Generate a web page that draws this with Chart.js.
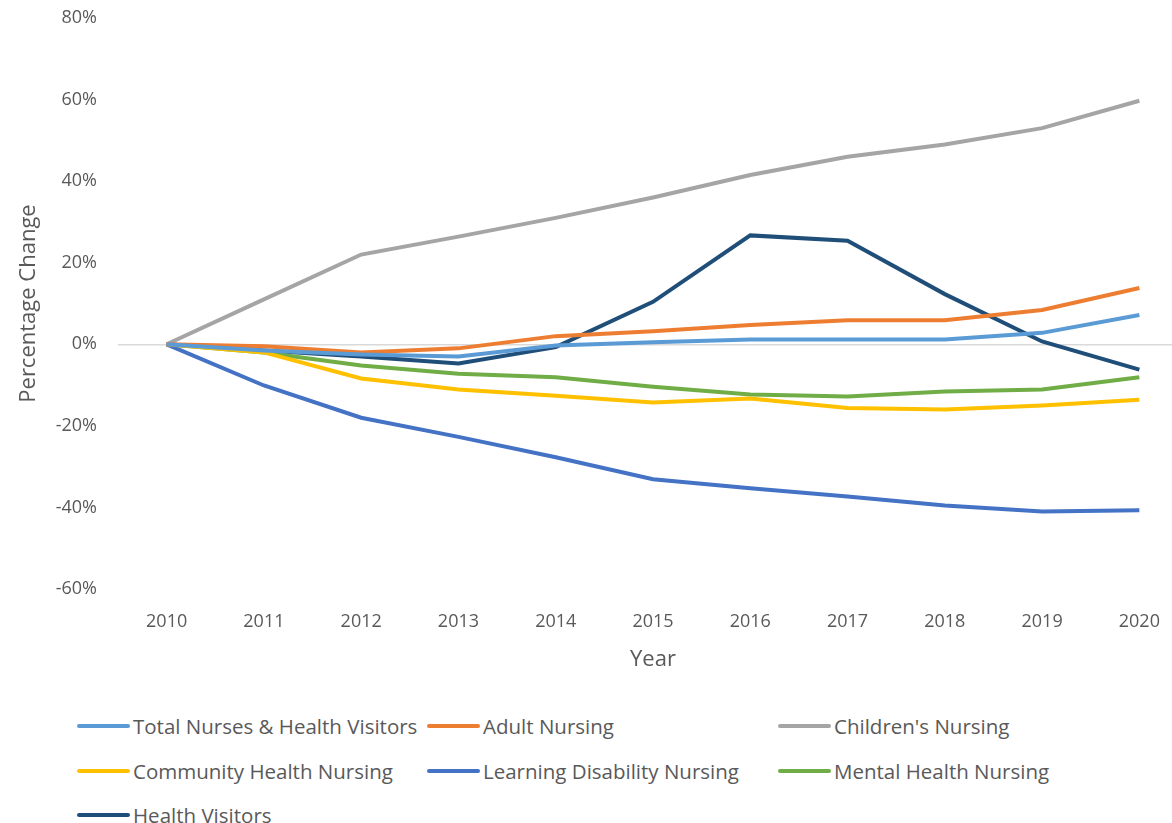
<!DOCTYPE html>
<html>
<head>
<meta charset="utf-8">
<script src="https://cdn.jsdelivr.net/npm/chart.js@4"></script>
<style>
  html, body { margin: 0; padding: 0; background: #fff; overflow: hidden; }
  #wrap { position: relative; width: 1192px; height: 690px; }
  #legend { position: absolute; left: 0; top: 705px; width: 1172px; height: 118px;
    font-family: "Open Sans", sans-serif; font-size: 20.5px; color: #595959; }
  .item { position: absolute; display: flex; align-items: center; white-space: nowrap; }
  .swatch { width: 53px; height: 4px; border-radius: 2px; margin-right: 3px; }
</style>
</head>
<body>
<div id="wrap"><canvas id="chart"></canvas></div>
<div id="legend"></div>
<script>
// years on the x axis
const years = ['2010','2011','2012','2013','2014','2015','2016','2017','2018','2019','2020'];

// percentage change since 2010
const totalNurses   = [0, -0.015, -0.025, -0.03, -0.003, 0.005, 0.012, 0.012, 0.012, 0.028, 0.072];
const adultNursing  = [0, -0.005, -0.02, -0.01, 0.02, 0.032, 0.047, 0.059, 0.059, 0.084, 0.138];
const childrensNursing = [0, 0.11, 0.22, 0.264, 0.31, 0.36, 0.415, 0.46, 0.49, 0.53, 0.597];
const communityNursing = [0, -0.02, -0.084, -0.111, -0.126, -0.143, -0.133, -0.156, -0.16, -0.15, -0.136];
const learningDisability = [0, -0.101, -0.18, -0.227, -0.277, -0.331, -0.353, -0.373, -0.395, -0.41, -0.407];
const mentalHealth  = [0, -0.02, -0.052, -0.072, -0.081, -0.104, -0.123, -0.128, -0.116, -0.111, -0.081];
const healthVisitors = [0, -0.015, -0.03, -0.047, -0.007, 0.104, 0.267, 0.254, 0.123, 0.007, -0.062];

const yTicks = [-0.6, -0.4, -0.2, 0, 0.2, 0.4, 0.6, 0.8];

const seriesNames = ['Total Nurses & Health Visitors', 'Adult Nursing', "Children's Nursing",
  'Community Health Nursing', 'Learning Disability Nursing', 'Mental Health Nursing', 'Health Visitors'];
const seriesData = [totalNurses, adultNursing, childrensNursing, communityNursing,
  learningDisability, mentalHealth, healthVisitors];
const seriesColors = ['#5b9bd5', '#ed7d31', '#a5a5a5', '#ffc000', '#4472c4', '#70ad47', '#1f4e79'];

const axisFont = { family: 'Open Sans', size: 18 };
const titleFont = { family: 'Open Sans', size: 22 };
const grey = '#595959';

const datasets = seriesNames.map((name, i) => ({
  label: name,
  data: seriesData[i],
  borderColor: seriesColors[i],
  backgroundColor: seriesColors[i],
  borderWidth: 4,
  pointRadius: 0,
  tension: 0,
  fill: false
}));

const chart = new Chart(document.getElementById('chart'), {
  type: 'line',
  data: { labels: years, datasets: datasets },
  options: {
    responsive: true,
    maintainAspectRatio: false,
    animation: false,
    layout: { padding: { top: 0, right: 4, bottom: 16, left: 0 } },
    plugins: { legend: { display: false }, tooltip: { enabled: false } },
    scales: {
      x: {
        offset: true,
        afterFit: (scale) => { scale.height = 85; },
        grid: { display: false, drawTicks: false },
        border: { display: false },
        ticks: { color: grey, font: axisFont, padding: 22, maxRotation: 0 },
        title: { display: true, text: 'Year', color: grey, font: titleFont, padding: { top: 0, bottom: 1 } }
      },
      y: {
        min: -0.6,
        max: 0.8,
        afterBuildTicks: (scale) => { scale.ticks = yTicks.map(v => ({ value: v })); },
        afterFit: (scale) => { scale.width = 118; scale.paddingTop = 18; scale.paddingBottom = 0; },
        grid: {
          drawTicks: false,
          color: (ctx) => (ctx.tick && ctx.tick.value === 0 ? '#d9d9d9' : 'rgba(0,0,0,0)'),
          lineWidth: 1.5
        },
        border: { display: false },
        ticks: {
          color: grey, font: axisFont, padding: 21,
          callback: (v) => Math.round(v * 100) + '%'
        },
        title: { display: true, text: 'Percentage Change', color: grey, font: titleFont, padding: { bottom: 0, top: 16 } }
      }
    }
  }
});

// legend laid out in three columns like the original
const legendEl = document.getElementById('legend');
const colX = [77, 427, 778];
const rowY = [21, 66, 110];
seriesNames.forEach((name, i) => {
  const item = document.createElement('div');
  item.className = 'item';
  item.style.left = colX[i % 3] + 'px';
  item.style.top = (rowY[Math.floor(i / 3)] - 14) + 'px';
  item.innerHTML = '<span class="swatch" style="background:' + seriesColors[i] + '"></span><span></span>';
  item.lastChild.textContent = name;
  legendEl.appendChild(item);
});
</script>
</body>
</html>
